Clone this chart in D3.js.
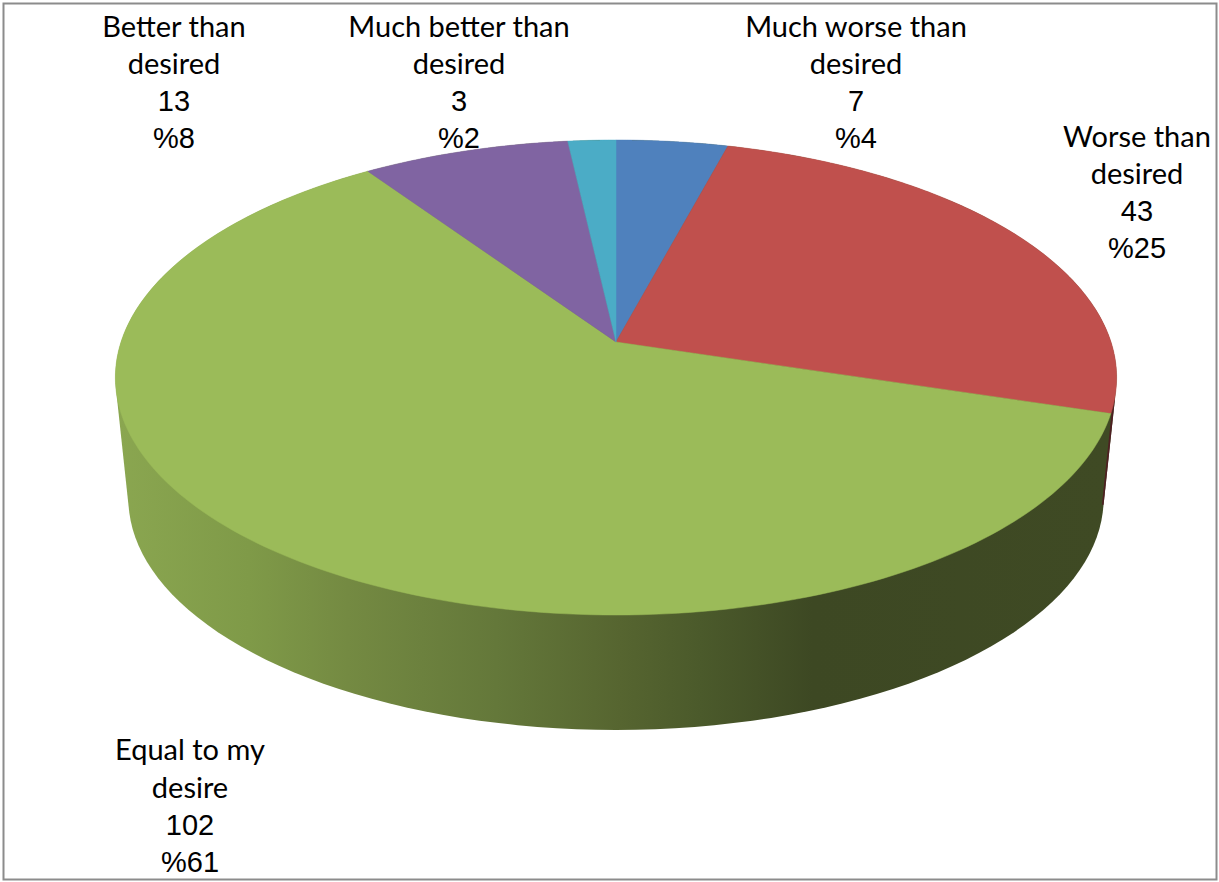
<!DOCTYPE html>
<html><head><meta charset="utf-8">
<script src="https://cdn.jsdelivr.net/npm/d3@7"></script>
<style>html,body{margin:0;padding:0;background:#fff;overflow:hidden}svg{display:block}text{font-family:Lato,"Liberation Sans",sans-serif;font-size:29px;fill:#000;text-anchor:middle}text.num{font-family:"Liberation Sans",Arial,sans-serif}</style>
</head><body><svg id="c" width="1219" height="882"></svg>
<script>
const categories = ["Much worse than desired","Worse than desired","Equal to my desire","Better than desired","Much better than desired"];
const values = [7,43,102,13,3];
const percents = ["%4","%25","%61","%8","%2"];
const colors = ["#4f81bd","#c0504d","#9bbb59","#8064a2","#4bacc6"];
const labelLines = [["Much worse than","desired"],["Worse than","desired"],["Equal to my","desire"],["Better than","desired"],["Much better than","desired"]];

// layout only
const labelAnchors = [[856,37],[1137,147],[190,760],[174,37],[459,37]];
const lineOffsets = [[0,37,74,111],[0,37,74,111],[0,38,75,112],[0,37,74,111],[0,37,74,111]];
const wallStops = [[0,"#8aa650"],[0.13,"#7f9a48"],[0.23,"#748a42"],[0.38,"#64783a"],[0.505,"#566530"],[0.586,"#4b5a2b"],[0.70,"#3d4823"],[1,"#3f4a24"]];

const svg = d3.select("#c");
const W=1219,H=882;
svg.append("rect").attr("x",3.5).attr("y",3.5).attr("width",W-6).attr("height",H-6).attr("fill","#fff").attr("stroke","#8c8c8c").attr("stroke-width",2);

// Perspective projection of the pie disc
const cx=616, apexY=342, a=495, b=232.2, p=0.1495, wallDrop=122, wallScale=0.974;
function proj(t,level){
  const u=Math.sin(t), v=Math.cos(t), w=1+p*v;
  const s=level?wallScale:1, dy=level?wallDrop:0;
  return [cx+s*a*u/w, apexY+dy-s*b*v/w];
}
const pie=d3.pie().sort(null).value(d=>d)(values);
const line=d3.line();
const samples=(t0,t1,level)=>d3.range(0,181).map(i=>proj(t0+(t1-t0)*i/180,level));

const defs=svg.append("defs");
const grad=defs.append("linearGradient").attr("id","wall").attr("gradientUnits","userSpaceOnUse").attr("x1",120).attr("x2",1110).attr("y1",0).attr("y2",0);
wallStops.forEach(s=>grad.append("stop").attr("offset",s[0]).attr("stop-color",s[1]));

const hull=d3.polygonHull(samples(0,2*Math.PI,0).concat(samples(0,2*Math.PI,1)));
defs.append("clipPath").attr("id","hullClip").append("path").attr("d",line(hull)+"Z");
svg.append("path").attr("d",line(hull)+"Z").attr("fill","url(#wall)");

// thin sliver of the Worse slice's wall at the right
const end=pie[1].endAngle;
svg.append("path").attr("clip-path","url(#hullClip)")
  .attr("d",line([proj(end-0.06,0),proj(end-0.122,1)]))
  .attr("stroke","#4f1f22").attr("stroke-width",3).attr("fill","none");

// top face
pie.forEach((d,i)=>{
  const pts=[[cx,apexY]].concat(samples(d.startAngle,d.endAngle,0));
  svg.append("path").attr("d",line(pts)+"Z").attr("fill",colors[i]).attr("stroke",colors[i]).attr("stroke-width",0.5);
});

// labels
categories.forEach((c,i)=>{
  const lines=labelLines[i].concat([String(values[i]),percents[i]]);
  const [x,y]=labelAnchors[i];
  lines.forEach((t,j)=>svg.append("text").attr("class",j>1?"num":null).attr("x",x).attr("y",y+lineOffsets[i][j]).text(t));
});
</script></body></html>
